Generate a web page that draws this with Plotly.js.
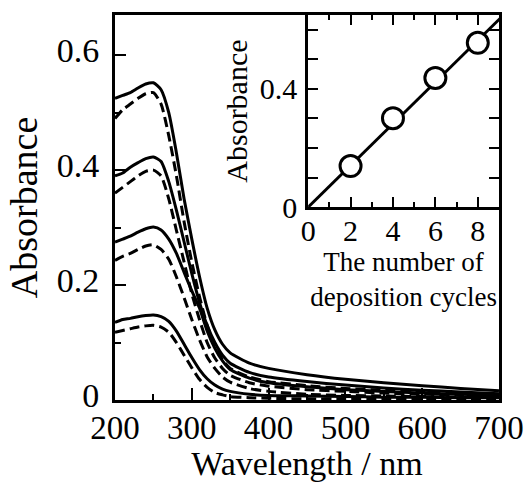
<!DOCTYPE html>
<html>
<head>
<meta charset="utf-8">
<script src="https://cdn.plot.ly/plotly-3.0.1.min.js"></script>
<style>html,body{margin:0;padding:0;background:#fff;}</style>
</head>
<body>
<div id="chart" style="width:530px;height:482px;"></div>
<script>
// Wavelength grid (nm)
const wavelength = [200,210,220,230,240,250,260,270,280,290,300,310,320,330,340,350,375,400,450,500,550,600,650,700];

// Absorbance spectra: solid and dashed for 8, 6, 4, 2 deposition cycles
const solid8  = [0.525,0.53,0.535,0.543,0.55,0.552,0.54,0.5,0.43,0.35,0.28,0.215,0.16,0.122,0.097,0.082,0.064,0.055,0.044,0.036,0.03,0.025,0.02,0.016];
const dashed8 = [0.49,0.505,0.515,0.525,0.533,0.535,0.515,0.46,0.39,0.31,0.24,0.18,0.13,0.095,0.07,0.055,0.04,0.032,0.025,0.02,0.017,0.014,0.012,0.01];
const solid6  = [0.39,0.395,0.405,0.413,0.42,0.423,0.415,0.38,0.33,0.275,0.22,0.17,0.13,0.1,0.078,0.064,0.048,0.04,0.032,0.026,0.021,0.017,0.014,0.011];
const dashed6 = [0.36,0.37,0.38,0.39,0.398,0.4,0.39,0.35,0.295,0.24,0.185,0.14,0.1,0.073,0.055,0.043,0.03,0.024,0.018,0.015,0.012,0.01,0.008,0.007];
const solid4  = [0.275,0.28,0.285,0.292,0.298,0.301,0.296,0.28,0.255,0.222,0.19,0.16,0.12,0.09,0.068,0.053,0.038,0.03,0.023,0.018,0.015,0.012,0.01,0.008];
const dashed4 = [0.243,0.25,0.255,0.262,0.268,0.27,0.262,0.245,0.214,0.178,0.14,0.105,0.075,0.055,0.04,0.031,0.02,0.015,0.01,0.008,0.007,0.006,0.005,0.005];
const solid2  = [0.135,0.14,0.142,0.145,0.147,0.148,0.145,0.137,0.12,0.097,0.074,0.053,0.037,0.026,0.019,0.015,0.01,0.008,0.007,0.006,0.005,0.005,0.004,0.004];
const dashed2 = [0.118,0.121,0.124,0.127,0.129,0.13,0.127,0.118,0.1,0.078,0.056,0.036,0.022,0.013,0.009,0.006,0.004,0.003,0.002,0.002,0.002,0.002,0.002,0.002];

// Inset: absorbance vs number of deposition cycles
const cycles = [2,4,6,8];
const cycleAbs = [0.139,0.301,0.437,0.556];
const fitX = [0,9.5];
const fitY = [0,0.67];

const font = "Liberation Serif, Times New Roman, serif";
const solidStyle = {color:'black', width:3, shape:'spline', smoothing:0.6};
const dashStyle = {color:'black', width:3, dash:'10px,5px', shape:'spline', smoothing:0.6};

const spectra = [solid8, dashed8, solid6, dashed6, solid4, dashed4, solid2, dashed2];
const traces = spectra.map((ys, i) => ({
  x: wavelength, y: ys, type:'scatter', mode:'lines',
  line: i % 2 === 0 ? solidStyle : dashStyle,
  xaxis:'x', yaxis:'y', showlegend:false, hoverinfo:'skip'
}));

traces.push({
  x: fitX, y: fitY, type:'scatter', mode:'lines',
  line:{color:'black', width:3}, xaxis:'x2', yaxis:'y2', showlegend:false
});
traces.push({
  x: cycles, y: cycleAbs, type:'scatter', mode:'markers',
  marker:{symbol:'circle', size:21, color:'white', line:{color:'black', width:3}},
  xaxis:'x2', yaxis:'y2', showlegend:false, cliponaxis:false
});

const layout = {
  width:530, height:482,
  margin:{l:115, r:31, t:15, b:82},
  paper_bgcolor:'white', plot_bgcolor:'white',
  font:{family:font, color:'black'},
  xaxis:{
    domain:[0,1], range:[200,700], dtick:100, tick0:200,
    ticks:'inside', ticklen:12, tickwidth:2, tickcolor:'black',
    minor:{dtick:50, ticks:'inside', ticklen:6, tickwidth:2, tickcolor:'black'},
    showline:true, linewidth:3, linecolor:'black', mirror:true,
    showgrid:false, zeroline:false,
    tickfont:{size:33, family:font}, ticklabelstandoff:-4,
    title:{text:'Wavelength / nm', font:{size:34, family:font}, standoff:-2}
  },
  yaxis:{
    domain:[0,1], range:[0,0.67], dtick:0.2, tick0:0,
    ticks:'inside', ticklen:11, tickwidth:2, tickcolor:'black',
    minor:{dtick:0.1, ticks:'inside', ticklen:6, tickwidth:2, tickcolor:'black'},
    showline:true, linewidth:3, linecolor:'black', mirror:true,
    showgrid:false, zeroline:false,
    tickfont:{size:34, family:font}, ticklabelstandoff:6, ticklabelshift:-5,
    title:{text:'Absorbance', font:{size:38, family:font}, standoff:8}
  },
  xaxis2:{
    domain:[0.503,1], anchor:'y2', range:[0,9], dtick:2, tick0:0,
    ticks:'inside', ticklen:10, tickwidth:2, tickcolor:'black',
    minor:{dtick:1, ticks:'inside', ticklen:5, tickwidth:2, tickcolor:'black'},
    showline:true, linewidth:3, linecolor:'black', mirror:'ticks',
    showgrid:false, zeroline:false,
    tickfont:{size:30, family:font}, ticklabelstandoff:-5,
    title:{text:'The number of<br>deposition cycles', font:{size:27, family:font}, standoff:0}
  },
  yaxis2:{
    domain:[0.501,1], anchor:'x2', range:[0,0.65], dtick:0.4, tick0:0,
    ticks:'inside', ticklen:10, tickwidth:2, tickcolor:'black',
    minor:{dtick:0.1, ticks:'inside', ticklen:10, tickwidth:2, tickcolor:'black'},
    showline:true, linewidth:3, linecolor:'black', mirror:'ticks',
    showgrid:false, zeroline:false,
    tickfont:{size:30, family:font}, ticklabelstandoff:2,
    title:{text:'Absorbance', font:{size:30, family:font}, standoff:4}
  }
};

Plotly.newPlot('chart', traces, layout, {displayModeBar:false, staticPlot:true});
</script>
</body>
</html>
